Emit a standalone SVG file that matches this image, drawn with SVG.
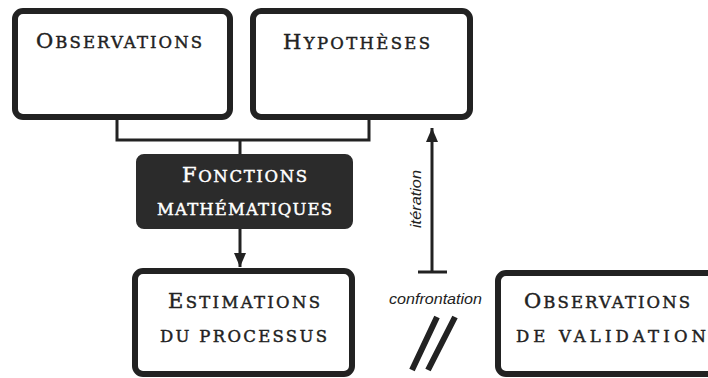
<svg xmlns="http://www.w3.org/2000/svg" width="708" height="378" viewBox="0 0 708 378">
<style>
.box{fill:#fff;stroke:#222;stroke-width:6}
.dark{fill:#2b2b2b;stroke:#2b2b2b;stroke-width:2}
.t{font-family:"DejaVu Serif","Liberation Serif",serif;fill:#222;stroke:#222;stroke-width:0.45;font-size:16.5px}
.tw{font-family:"DejaVu Serif","Liberation Serif",serif;fill:#fff;stroke:#fff;stroke-width:0.45;font-size:16.5px}
.big{font-size:21px}
.lab{font-family:"Liberation Sans",Arial,sans-serif;font-style:italic;fill:#222;font-size:15px}
.ln{fill:none;stroke:#222;stroke-width:3}
</style>
<defs>
<marker id="ah" viewBox="0 0 14 12" refX="14" refY="6" markerWidth="14" markerHeight="12" markerUnits="userSpaceOnUse" orient="auto">
<path d="M0,0 L14,6 L0,12 Z" fill="#222"/>
</marker>
</defs>
<rect width="708" height="378" fill="#fff"/>
<g id="connectors">
<path class="ln" d="M117,120 V140 H369 V120"/>
<path class="ln" d="M240,140 V156"/>
<path class="ln" d="M240,228 V267" marker-end="url(#ah)"/>
<path class="ln" d="M432,272 V128" marker-end="url(#ah)"/>
<path class="ln" d="M418,272 H447"/>
<text class="lab" transform="translate(421,228) rotate(-90)" textLength="58" lengthAdjust="spacingAndGlyphs">itération</text>
<text class="lab" x="389" y="304" textLength="93" lengthAdjust="spacingAndGlyphs">confrontation</text>
<path d="M437,317 L412,370 M455,317 L428,370" fill="none" stroke="#222" stroke-width="6"/>
</g>
<g id="observations">
<rect class="box" x="15" y="11" width="215" height="106" rx="8"/>
<text class="t" x="36" y="48" textLength="166"><tspan class="big">O</tspan>BSERVATIONS</text>
</g>
<g id="hypotheses">
<rect class="box" x="253" y="11" width="217" height="106" rx="8"/>
<text class="t" x="283" y="49" textLength="147"><tspan class="big">H</tspan>YPOTHÈSES</text>
</g>
<g id="fonctions">
<rect class="dark" x="137" y="155" width="215" height="73" rx="7"/>
<text class="tw" x="182" y="182" textLength="125"><tspan class="big">F</tspan>ONCTIONS</text>
<text class="tw" x="157" y="215" textLength="175">MATHÉMATIQUES</text>
</g>
<g id="estimations">
<rect class="box" x="135" y="271" width="217" height="103" rx="8"/>
<text class="t" x="168" y="308" textLength="152"><tspan class="big">E</tspan>STIMATIONS</text>
<text class="t" x="160" y="342" textLength="167">DU PROCESSUS</text>
</g>
<g id="validation">
<rect class="box" x="498" y="273" width="225" height="101" rx="8"/>
<text class="t" x="524" y="308" textLength="166"><tspan class="big">O</tspan>BSERVATIONS</text>
<text class="t" x="516" y="342" textLength="190">DE VALIDATION</text>
</g>
</svg>
